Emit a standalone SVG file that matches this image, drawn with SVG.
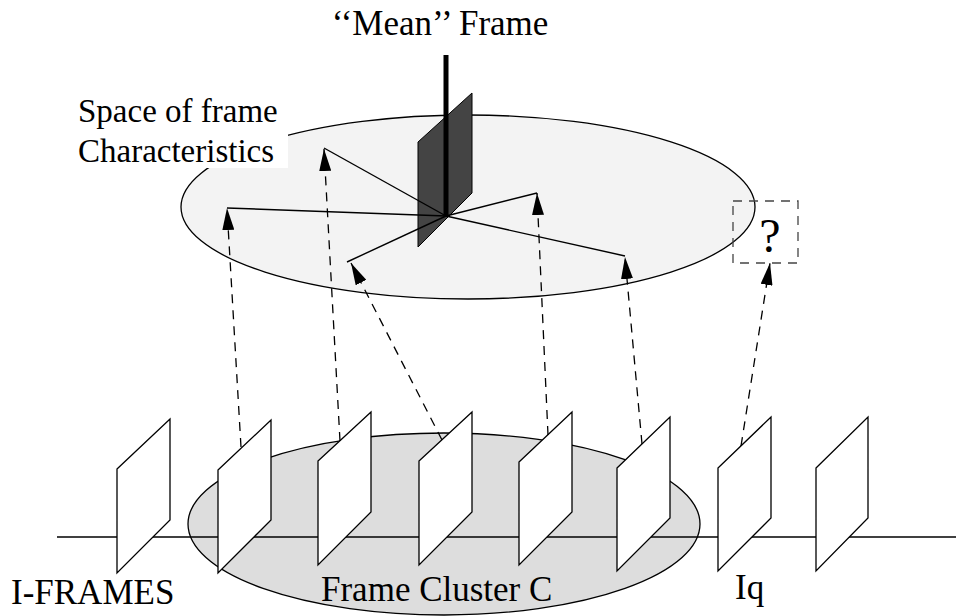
<svg xmlns="http://www.w3.org/2000/svg" width="956" height="616" viewBox="0 0 956 616">
<defs>
<style>
text{font-family:"Liberation Serif","Times New Roman",serif;font-size:35px;fill:#000}
.small{font-size:33px}
.frame{fill:#fff;stroke:#000;stroke-width:1.3;stroke-linejoin:miter}
.dash{fill:none;stroke:#000;stroke-width:1.3;stroke-dasharray:9 7}
.ray{fill:none;stroke:#000;stroke-width:1.4}
</style>
<marker id="ah" markerUnits="userSpaceOnUse" markerWidth="22" markerHeight="12" refX="22" refY="6" orient="auto">
<path d="M0,0 L22,6 L0,12 z" fill="#000"/>
</marker>
</defs>
<rect width="956" height="616" fill="#fff"/>

<g id="space">
<ellipse cx="468" cy="207" rx="287" ry="92" fill="#f3f3f3" stroke="#000" stroke-width="1.3"/>
<rect x="75" y="95" width="213" height="73" fill="#fff"/>
<text class="small" x="78" y="122">Space of frame</text>
<text class="small" x="78" y="162">Characteristics</text>
</g>

<g id="cluster">
<ellipse cx="444" cy="524" rx="256" ry="91" fill="#dddddd" stroke="#000" stroke-width="1.3"/>
<text x="321" y="601">Frame Cluster C</text>
</g>

<g id="timeline">
<line x1="57" y1="537" x2="956" y2="537" stroke="#000" stroke-width="1.3"/>
</g>

<g id="frames">
<polygon id="f1" class="frame" points="117,469 170,419 170,520 117,573"/>
<polygon id="f2" class="frame" points="218,470 271,420 271,520 218,573"/>
<polygon id="f3" class="frame" points="318,461 371,412 371,512 318,565"/>
<polygon id="f4" class="frame" points="419,461 472,412 472,512 419,565"/>
<polygon id="f5" class="frame" points="519,462 572,412 572,512 519,565"/>
<polygon id="f6" class="frame" points="617,468 670,417 670,518 617,571"/>
<polygon id="f7" class="frame" points="718,468 771,417 771,518 718,571"/>
<polygon id="f8" class="frame" points="816,468 868,417 868,518 816,571"/>
</g>

<g id="mean">
<polygon points="418,142 472,93 472,193 418,247" fill="#444" stroke="#000" stroke-width="1"/>
</g>

<g id="rays">
<line class="ray" x1="446" y1="216" x2="227" y2="208"/>
<line class="ray" x1="446" y1="216" x2="324" y2="148"/>
<line class="ray" x1="446" y1="216" x2="347" y2="262"/>
<line class="ray" x1="446" y1="216" x2="537" y2="193"/>
<line class="ray" x1="446" y1="216" x2="625" y2="256"/>
<line x1="446" y1="55" x2="446" y2="217" stroke="#000" stroke-width="5"/>
</g>

<g id="connectors">
<line class="dash" x1="241" y1="447" x2="227" y2="208" marker-end="url(#ah)"/>
<line class="dash" x1="340" y1="441" x2="324" y2="149" marker-end="url(#ah)"/>
<line class="dash" x1="442" y1="440" x2="351" y2="263" marker-end="url(#ah)"/>
<line class="dash" x1="548" y1="435" x2="537" y2="193" marker-end="url(#ah)"/>
<line class="dash" x1="642" y1="444" x2="625" y2="257" marker-end="url(#ah)"/>
<line class="dash" x1="741" y1="446" x2="770" y2="263" marker-end="url(#ah)"/>
</g>

<g id="unknown">
<rect x="733" y="201" width="65" height="62" fill="none" stroke="#444" stroke-width="1.3" stroke-dasharray="9 7"/>
<text x="770" y="252" text-anchor="middle" style="font-size:48px">?</text>
</g>

<g id="labels">
<text x="440" y="35" text-anchor="middle">‘‘Mean’’ Frame</text>
<text x="11" y="604">I-FRAMES</text>
<text x="735" y="599">Iq</text>
</g>
</svg>
